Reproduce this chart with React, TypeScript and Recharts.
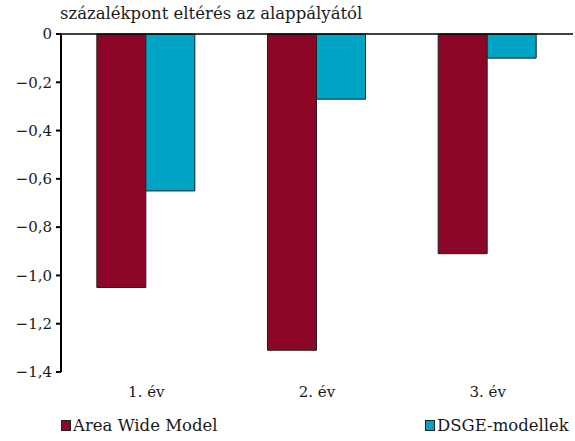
import React from "react";
import { BarChart, Bar, XAxis, YAxis, ReferenceLine } from "recharts";

const categories = ["1. év", "2. év", "3. év"];
const areaWideModel = [-1.05, -1.31, -0.91];
const dsgeModels = [-0.65, -0.27, -0.1];
const yTicks = [0, -0.2, -0.4, -0.6, -0.8, -1.0, -1.2, -1.4];
const title = "százalékpont eltérés az alappályától";
const seriesNames = ["Area Wide Model", "DSGE-modellek"];

const data = categories.map((c, i) => ({ name: c, awm: areaWideModel[i], dsge: dsgeModels[i] }));

const RED = "#8C0727";
const TEAL = "#00A4C4";
const FONT = "'DejaVu Serif', serif";
const FS = 16.5;
const TXT = "#1a1a1a";

const fmt = (v: number) => (v === 0 ? "0" : "\u2212" + Math.abs(v).toFixed(1).replace(".", ","));

export default function App() {
  return (
    <div style={{ position: "absolute", left: 0, top: 0, width: 575, height: 441, background: "#fff", fontFamily: FONT }}>
      <div style={{ position: "absolute", left: 60, top: 4, fontSize: 16.5, color: TXT, whiteSpace: "nowrap", fontFamily: FONT }}>{title}</div>
      <BarChart width={575} height={441} data={data} margin={{ top: 34, right: 2, bottom: 34, left: 0 }} barCategoryGap="21%" barGap={0}>
        <YAxis
          width={61}
          domain={[-1.4, 0]}
          ticks={yTicks}
          interval={0}
          tickFormatter={fmt}
          axisLine={{ stroke: "#000", strokeWidth: 2 }}
          tickLine={{ stroke: "#000", strokeWidth: 2 }}
          tickSize={5}
          tickMargin={4}
          tick={{ fill: TXT, fontSize: 15, fontFamily: FONT }}
        />
        <XAxis
          dataKey="name"
          axisLine={false}
          tickLine={false}
          tickMargin={8}
          height={35}
          tick={{ fill: TXT, fontSize: 15, fontFamily: FONT }}
        />
        <Bar dataKey="awm" fill={RED} stroke="#222" strokeWidth={1} isAnimationActive={false} />
        <Bar dataKey="dsge" fill={TEAL} stroke="#222" strokeWidth={1} isAnimationActive={false} />
        <ReferenceLine y={0} stroke="#000" strokeWidth={1.5} />
      </BarChart>
      <div style={{ position: "absolute", left: 61, top: 416, fontSize: FS, color: TXT, display: "flex", alignItems: "center", whiteSpace: "nowrap", fontFamily: FONT }}>
        <span style={{ display: "inline-block", width: 8, height: 9, background: RED, border: "1px solid #222", marginRight: 2 }} />
        {seriesNames[0]}
      </div>
      <div style={{ position: "absolute", left: 425, top: 416, fontSize: FS, color: TXT, display: "flex", alignItems: "center", whiteSpace: "nowrap", fontFamily: FONT }}>
        <span style={{ display: "inline-block", width: 8, height: 9, background: TEAL, border: "1px solid #222", marginRight: 2 }} />
        {seriesNames[1]}
      </div>
    </div>
  );
}
